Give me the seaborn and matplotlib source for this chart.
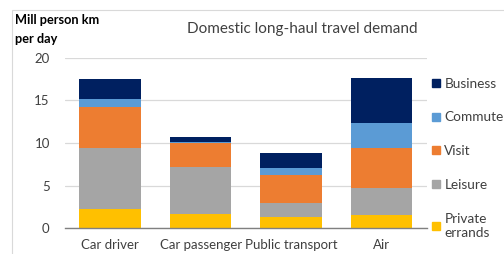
import matplotlib
matplotlib.use("Agg")
import matplotlib.pyplot as plt
from matplotlib.patches import Patch, Rectangle
import seaborn as sns
import pandas as pd
import numpy as np

modes = ["Car driver", "Car passenger", "Public transport", "Air"]
purposes = ["Private\nerrands", "Leisure", "Visit", "Commute", "Business"]
private_errands = [2.3, 1.65, 1.3, 1.5]
leisure = [7.1, 5.55, 1.6, 3.2]
visit = [4.8, 2.8, 3.3, 4.7]
commute = [1.0, 0.15, 0.9, 2.9]
business = [2.3, 0.55, 1.7, 5.3]
colors = ["#FFC000", "#A5A5A5", "#ED7D31", "#5B9BD5", "#002060"]

sns.set_style("white")
plt.rcParams["font.family"] = ["Lato", "DejaVu Sans"]

fig = plt.figure(figsize=(5.04, 2.54), dpi=100)
ax = fig.add_axes([0.129, 0.102, 0.718, 0.670])

series = [private_errands, leisure, visit, commute, business]
bottom = np.zeros(len(modes))
for name, vals, col in zip(purposes, series, colors):
    df = pd.DataFrame({"mode": modes, "val": vals})
    sns.barplot(data=df, x="mode", y="val", color=col, width=0.68,
                bottom=bottom, ax=ax, saturation=1, zorder=3, linewidth=0)
    bottom = bottom + np.array(vals)

ax.set_xlim(-0.5, 3.5)
ax.set_ylim(0, 20)
ax.set_yticks([0, 5, 10, 15, 20])
ax.yaxis.grid(True, color="#D9D9D9", linewidth=0.9, zorder=0)
ax.set_axisbelow(True)
for s in ["top", "right", "left"]:
    ax.spines[s].set_visible(False)
ax.spines["bottom"].set_color("#808080")
ax.spines["bottom"].set_linewidth(1.0)
ax.spines["bottom"].set_zorder(4)
ax.set_xlabel("")
ax.set_ylabel("")
ax.tick_params(axis="both", length=0, labelsize=9.5, labelcolor="#404040")
ax.tick_params(axis="y", pad=11)
ax.tick_params(axis="x", pad=8)

fig.text(0.03, 0.885, "Mill person km\nper day", fontsize=9.2, fontweight="bold",
         color="#000000", ha="left", va="center", linespacing=1.7)
fig.text(0.60, 0.885, "Domestic long-haul travel demand", fontsize=11,
         color="#404040", ha="center", va="center")

handles = [Patch(color=c) for c in colors[::-1]]
fig.legend(handles, purposes[::-1], loc="upper left", bbox_to_anchor=(0.852, 0.705),
           frameon=False, fontsize=9.8, handlelength=0.55, handleheight=0.55,
           handletextpad=0.35, labelspacing=1.6, labelcolor="#404040",
           borderaxespad=0, borderpad=0.2)

fig.patches.append(Rectangle((12 / 504, -0.1), 1.2, 1 - 10 / 254 + 0.1,
                             transform=fig.transFigure, fill=False,
                             edgecolor="#D9D9D9", linewidth=0.8))

fig.savefig("out.png", dpi=100)
